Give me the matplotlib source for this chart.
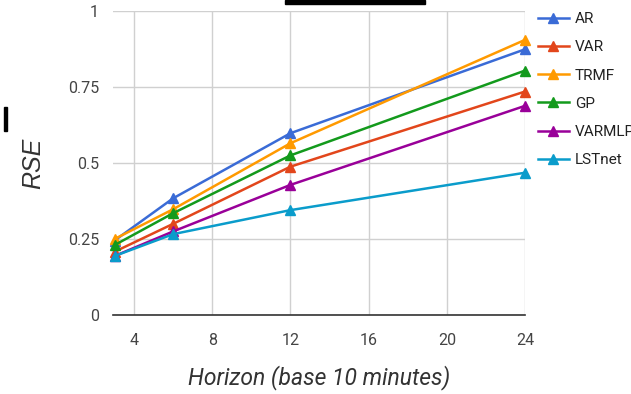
import matplotlib.pyplot as plt
from matplotlib.patches import Rectangle
from matplotlib.lines import Line2D

plt.rcParams["font.family"] = ["Roboto", "DejaVu Sans"]

horizons = [3, 6, 12, 24]
models = ["AR", "VAR", "TRMF", "GP", "VARMLP", "LSTnet"]
colors = ["#3A6BD6", "#E2461B", "#FF9A00", "#139A1C", "#990099", "#0A9CCB"]
ar = [0.245, 0.384, 0.598, 0.874]
var = [0.208, 0.300, 0.488, 0.735]
trmf = [0.250, 0.348, 0.565, 0.905]
gp = [0.230, 0.335, 0.525, 0.804]
varmlp = [0.194, 0.275, 0.428, 0.688]
lstnet = [0.194, 0.266, 0.345, 0.468]
series = [ar, var, trmf, gp, varmlp, lstnet]

fig = plt.figure(figsize=(6.31, 3.94), dpi=100)
ax = fig.add_axes([113 / 631, 1 - 315 / 394, (525 - 113) / 631, (315 - 11) / 394])

for name, col, vals in zip(models, colors, series):
    ax.plot(horizons, vals, color=col, lw=1.8, marker="^", ms=7,
            label=name, clip_on=False, zorder=3)

ax.set_xlim(2.92, 24)
ax.set_ylim(0, 1)
ax.set_xticks([4, 8, 12, 16, 20, 24])
ax.set_yticks([0, 0.25, 0.5, 0.75, 1])
ax.set_yticklabels(["0", "0.25", "0.5", "0.75", "1"])
ax.grid(True, color="#d0d0d0", lw=1)
ax.set_axisbelow(True)
for s in ["left", "right", "top"]:
    ax.spines[s].set_visible(False)
ax.spines["bottom"].set_color("#333333")
ax.spines["bottom"].set_linewidth(1.2)
ax.tick_params(length=0, labelsize=11.5, labelcolor="#444444")
ax.tick_params(axis="y", pad=10)
ax.tick_params(axis="x", pad=13)

ax.set_xlabel("Horizon (base 10 minutes)", fontsize=16.5, style="italic",
              color="#333333", labelpad=12)
ax.set_ylabel("RSE", fontsize=18, style="italic", color="#333333", labelpad=16,
              family="Liberation Sans")

handles = [Line2D([0], [0], color=c, lw=1.8, marker="^", ms=7) for c in colors]
fig.legend(handles, models, loc="upper left", bbox_to_anchor=(532 / 631, 1 - 6 / 394),
           frameon=False, fontsize=11, handlelength=2.0, handletextpad=0.4,
           labelspacing=0.93, labelcolor="#222222", borderaxespad=0)

# screenshot artifacts
fig.add_artist(Rectangle((285 / 631, 1 - 4 / 394), 140 / 631, 4 / 394,
                         transform=fig.transFigure, color="black"))
fig.add_artist(Rectangle((4 / 631, 1 - 131 / 394), 3 / 631, 24 / 394,
                         transform=fig.transFigure, color="black"))

fig.savefig("out.png", dpi=100)
